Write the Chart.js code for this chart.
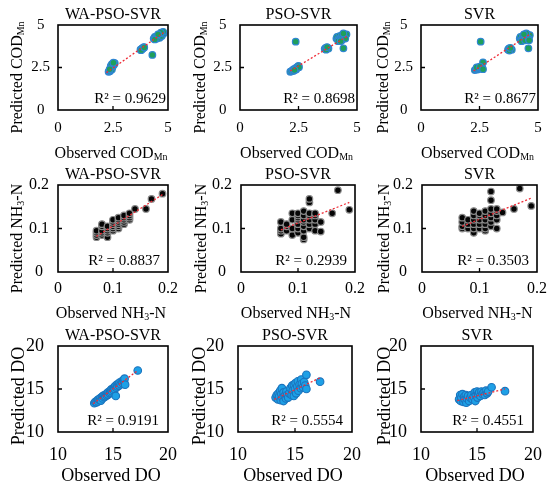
<!DOCTYPE html>
<html><head><meta charset="utf-8">
<script src="https://cdn.jsdelivr.net/npm/chart.js@4.4.1/dist/chart.umd.min.js"></script>
<style>
html,body{margin:0;padding:0;background:#fff;}
#wrap{position:relative;width:550px;height:490px;overflow:hidden;background:#fff;}
#wrap canvas{position:absolute;}
</style></head><body><div id="wrap"></div>
<script>
// ---------- text ----------
const models = ['WA-PSO-SVR', 'PSO-SVR', 'SVR'];
const r2Cod = ['R² = 0.9629', 'R² = 0.8698', 'R² = 0.8677'];
const r2Nh3 = ['R² = 0.8837', 'R² = 0.2939', 'R² = 0.3503'];
const r2Do  = ['R² = 0.9191', 'R² = 0.5554', 'R² = 0.4551'];
const xTitleCod = [['Observed COD', 0], ['Mn', 1]];
const yTitleCod = [['Predicted COD', 0], ['Mn', 1]];
const xTitleNh3 = [['Observed NH', 0], ['3', 1], ['-N', 0]];
const yTitleNh3 = [['Predicted NH', 0], ['3', 1], ['-N', 0]];
const xTitleDo  = [['Observed DO', 0]];
const yTitleDo  = [['Predicted DO', 0]];

// ---------- tick labels ----------
const codTicks = [0, 2.5, 5];
const nh3Ticks = [0, 0.1, 0.2];
const doTicks  = [10, 15, 20];

// ---------- COD Mn ----------
const codObsWA  = [2.30,2.33,2.36,2.38,2.40,2.42,2.45,2.45,2.48,2.50,2.40,2.45,2.55,2.58,2.52,2.35, 3.75,3.80,3.82,3.85,3.87,3.90,3.78,3.92, 4.29, 4.35,4.40,4.45,4.50,4.50,4.55,4.60,4.62,4.65,4.70,4.72,4.75,4.80,4.78,4.68,4.40,4.55];
const codPredWA = [2.25,2.30,2.28,2.35,2.40,2.45,2.50,2.38,2.55,2.60,2.60,2.70,2.68,2.75,2.78,2.40, 3.55,3.58,3.62,3.60,3.66,3.70,3.52,3.68, 3.24, 4.20,4.30,4.25,4.35,4.20,4.30,4.40,4.25,4.45,4.50,4.35,4.55,4.50,4.60,4.55,4.15,4.45];
const codTrendWA = [[2.2, 4.8], [2.2, 4.55]];

const codObsPSO  = [2.15,2.20,2.25,2.28,2.30,2.35,2.38,2.40,2.42,2.45,2.48,2.50,2.52,2.33, 2.38, 3.62,3.66,3.70,3.74,3.78,3.68,3.72, 4.12,4.15,4.20,4.25,4.30,4.35,4.40,4.45,4.50,4.55,4.20,4.35,4.50,4.42,4.30, 4.42];
const codPredPSO = [2.25,2.28,2.35,2.30,2.40,2.42,2.45,2.38,2.50,2.48,2.55,2.60,2.52,2.35, 4.02, 3.60,3.65,3.60,3.65,3.62,3.55,3.70, 4.20,4.30,4.15,4.35,4.25,4.40,4.30,4.45,4.35,4.45,4.05,4.10,4.20,4.50,4.05, 3.63];
const codTrendPSO = [[2.15, 4.6], [2.3, 4.35]];

const codObsSVR  = [2.30,2.35,2.40,2.42,2.45,2.48,2.50,2.55,2.60,2.65,2.38,2.52,2.65, 2.55, 3.72,3.76,3.80,3.84,3.88,3.78,3.82, 4.22,4.25,4.30,4.35,4.40,4.45,4.50,4.55,4.60,4.65,4.30,4.45,4.60,4.50,4.40,4.62, 4.59];
const codPredSVR = [2.35,2.40,2.45,2.38,2.50,2.42,2.48,2.45,2.50,2.80,2.50,2.55,2.40, 4.02, 3.55,3.62,3.58,3.60,3.55,3.50,3.65, 4.20,4.30,4.15,4.35,4.25,4.40,4.30,4.45,4.35,4.40,4.05,4.10,4.20,4.50,4.45,4.10, 3.63];
const codTrendSVR = [[2.25, 4.7], [2.3, 4.5]];

// ---------- NH3-N ----------
const nh3ObsWA  = [0.07,0.07,0.07,0.07, 0.08,0.08,0.08,0.08,0.08, 0.09,0.09,0.09,0.09,0.09, 0.10,0.10,0.10,0.10,0.10,0.10, 0.11,0.11,0.11,0.11,0.11,0.11, 0.12,0.12,0.12,0.12,0.12, 0.13,0.13,0.13,0.13, 0.14, 0.16, 0.17, 0.19];
const nh3PredWA = [0.080,0.085,0.090,0.095, 0.085,0.090,0.095,0.105,0.110, 0.080,0.090,0.095,0.100,0.105, 0.095,0.100,0.105,0.110,0.115,0.120, 0.100,0.105,0.110,0.115,0.120,0.125, 0.110,0.115,0.120,0.125,0.130, 0.120,0.125,0.130,0.135, 0.145, 0.145, 0.168, 0.180];
const nh3TrendWA = [[0.07, 0.19], [0.082, 0.178]];

const nh3ObsPSO  = [0.07,0.07,0.07,0.07, 0.08,0.08,0.08, 0.09,0.09,0.09,0.09, 0.10,0.10,0.10,0.10,0.10,0.10,0.10, 0.11,0.11,0.11,0.11,0.11,0.11,0.11,0.11, 0.12,0.12,0.12,0.12,0.12,0.12,0.12, 0.13,0.13,0.13,0.13,0.13, 0.14,0.14, 0.16, 0.17, 0.19];
const nh3PredPSO = [0.088,0.095,0.100,0.115, 0.095,0.105,0.110, 0.085,0.100,0.120,0.135, 0.090,0.100,0.110,0.120,0.125,0.130,0.135, 0.075,0.080,0.095,0.105,0.115,0.120,0.130,0.140, 0.100,0.110,0.120,0.130,0.135,0.160,0.168, 0.095,0.110,0.120,0.130,0.135, 0.115,0.093, 0.135, 0.188, 0.143];
const nh3TrendPSO = [[0.07, 0.19], [0.097, 0.160]];

const nh3ObsSVR  = [0.07,0.07,0.07,0.07, 0.08,0.08,0.08, 0.09,0.09,0.09,0.09,0.09,0.09, 0.10,0.10,0.10,0.10,0.10, 0.11,0.11,0.11,0.11,0.11,0.11, 0.12,0.12,0.12,0.12,0.12,0.12,0.12, 0.13,0.13,0.13,0.13,0.13, 0.14, 0.16, 0.17, 0.19];
const nh3PredSVR = [0.100,0.105,0.115,0.125, 0.100,0.110,0.120, 0.090,0.100,0.110,0.120,0.130,0.140, 0.100,0.110,0.120,0.130,0.135, 0.095,0.100,0.110,0.120,0.130,0.140, 0.105,0.115,0.125,0.135,0.145,0.165,0.185, 0.100,0.120,0.130,0.140,0.145, 0.137, 0.145, 0.192, 0.152];
const nh3TrendSVR = [[0.07, 0.19], [0.105, 0.170]];

// ---------- DO ----------
const doObsWA  = [13.3,13.4,13.5,13.6,13.65,13.7,13.8,13.85,13.9,14.0,14.05,14.1,14.2,14.25,14.3,14.4,14.45,14.5,14.55,14.6,14.7,14.75,14.8,14.85,14.9,15.0,15.05,15.1,15.15,15.2,15.25,15.3,15.35,15.4,15.5,15.55,15.6,15.7,15.8,15.85,15.95,16.0,16.05,16.1,17.25];
const doPredWA = [13.35,13.5,13.45,13.7,13.55,13.8,13.75,13.95,13.65,14.1,13.9,14.2,14.05,14.3,14.15,14.4,14.25,14.55,14.35,14.65,14.5,14.8,14.6,14.95,14.75,15.05,14.85,15.2,15.0,15.35,14.2,15.15,15.5,15.3,15.6,15.4,15.75,15.55,15.9,15.7,16.05,15.85,16.2,15.5,17.15];
const doTrendWA = [[13.2, 17.2], [13.3, 17.1]];

const doObsPSO  = [13.3,13.4,13.5,13.55,13.6,13.7,13.75,13.8,13.85,13.9,14.0,14.0,14.1,14.2,14.25,14.3,14.4,14.5,14.6,14.7,14.75,14.8,14.9,14.9,15.0,15.05,15.1,15.2,15.25,15.3,15.4,15.5,15.55,15.6,15.7,15.8,15.9,16.0,16.0,17.2];
const doPredPSO = [14.0,14.3,13.8,14.5,14.1,14.8,13.7,14.4,15.1,14.0,13.6,14.6,14.2,13.9,14.7,14.3,14.0,14.5,15.1,14.3,15.4,14.8,15.5,14.2,15.0,15.7,14.5,15.3,15.9,14.8,15.5,15.1,16.1,15.6,15.2,15.8,15.4,16.65,15.0,15.85];
const doTrendPSO = [[13.2, 17.2], [13.8, 16.3]];

const doObsSVR  = [13.4,13.5,13.55,13.6,13.7,13.8,13.85,13.9,14.0,14.05,14.1,14.2,14.3,14.4,14.5,14.6,14.7,14.8,14.85,14.9,15.0,15.05,15.1,15.2,15.3,15.4,15.5,15.6,15.7,15.8,15.9,16.0,16.3,17.5];
const doPredSVR = [13.8,14.3,13.6,14.0,14.4,13.5,14.1,13.8,14.3,13.4,13.9,14.2,13.6,14.0,14.3,13.8,14.1,14.6,13.6,14.3,14.7,14.0,14.4,14.6,14.2,14.7,14.4,14.6,14.3,14.8,14.5,14.7,15.2,14.75];
const doTrendSVR = [[13.25, 17.5], [13.65, 15.0]];

// ---------- layout (positions / styles only) ----------
const cellX = [[0,185],[185,365],[365,550]];
const cellY = [[0,162],[162,322],[322,490]];
const boxX = [[[58,168],[240,357],[421,538]], [[58,168],[241,355],[422,537]], [[58,168],[238,352],[421,533]]];
const boxY = [[25,110],[185,272],[346,432]];
const colYTitleAdj = [0, 1, 3];
const FONT = "'Liberation Serif', 'Times New Roman', serif";

const rows = [
  { ticks: codTicks, r2: r2Cod, xt: xTitleCod, yt: yTitleCod, tickFont: 15, axisFont: 16, ytickPad: 8, xtickPad: 9,
    radius: 3.3, fill: '#1f9f5b', border: '#2f86d2', bw: 1.2, xTitleDy: 43, yTitleDx: 41, yTitleDy: 10, r2dx: 2, r2dy: 7,
    sets: [[codObsWA, codPredWA, codTrendWA], [codObsPSO, codPredPSO, codTrendPSO], [codObsSVR, codPredSVR, codTrendSVR]] },
  { ticks: nh3Ticks, r2: r2Nh3, xt: xTitleNh3, yt: yTitleNh3, tickFont: 16, axisFont: 16, ytickPad: 9, xtickPad: 7,
    radius: 3.3, fill: '#050505', border: '#8a8a8a', bw: 1.2, xTitleDy: 41, yTitleDx: 41, yTitleDy: 10, r2dx: 8, r2dy: 7,
    sets: [[nh3ObsWA, nh3PredWA, nh3TrendWA], [nh3ObsPSO, nh3PredPSO, nh3TrendPSO], [nh3ObsSVR, nh3PredSVR, nh3TrendSVR]] },
  { ticks: doTicks, r2: r2Do, xt: xTitleDo, yt: yTitleDo, tickFont: 18, axisFont: 18, ytickPad: 14, xtickPad: 12,
    radius: 3.8, fill: '#1ea0e6', border: '#1b73bd', bw: 1.1, xTitleDy: 43, yTitleDx: 40, yTitleDy: 7, r2dx: 9, r2dy: 7,
    sets: [[doObsWA, doPredWA, doTrendWA], [doObsPSO, doPredPSO, doTrendPSO], [doObsSVR, doPredSVR, doTrendSVR]] }
];

function drawRich(ctx, parts, size, cx, cy, rot) {
  ctx.save();
  ctx.translate(cx, cy);
  if (rot) ctx.rotate(-Math.PI / 2);
  let total = 0;
  const widths = parts.map(p => {
    ctx.font = (p[1] ? size * 0.62 : size) + 'px ' + FONT;
    const w = ctx.measureText(p[0]).width;
    total += w; return w;
  });
  let x = -total / 2;
  const base = size * 0.33;
  ctx.textAlign = 'left';
  ctx.textBaseline = 'alphabetic';
  ctx.fillStyle = '#000';
  parts.forEach((p, i) => {
    ctx.font = (p[1] ? size * 0.62 : size) + 'px ' + FONT;
    ctx.fillText(p[0], x, base + (p[1] ? size * 0.12 : 0));
    x += widths[i];
  });
  ctx.restore();
}

const decor = {
  id: 'decor',
  afterDraw(chart, args, o) {
    const ctx = chart.ctx, ca = chart.chartArea;
    const xs = chart.scales.x, ys = chart.scales.y;
    ctx.save();
    // inward mid ticks
    ctx.strokeStyle = '#000'; ctx.lineWidth = 1.3;
    const mx = xs.getPixelForValue(o.mid), my = ys.getPixelForValue(o.mid);
    ctx.beginPath();
    ctx.moveTo(mx, ca.bottom); ctx.lineTo(mx, ca.bottom - 4);
    ctx.moveTo(ca.left, my); ctx.lineTo(ca.left + 4, my);
    ctx.stroke();
    // frame
    ctx.lineWidth = 1.6;
    ctx.strokeRect(ca.left, ca.top, ca.right - ca.left, ca.bottom - ca.top);
    // panel title
    ctx.fillStyle = '#000';
    ctx.font = '16px ' + FONT;
    ctx.textAlign = 'center'; ctx.textBaseline = 'middle';
    ctx.fillText(o.title, (ca.left + ca.right) / 2, ca.top - 10);
    // R²
    ctx.font = '15px ' + FONT;
    ctx.textAlign = 'right'; ctx.textBaseline = 'alphabetic';
    ctx.fillText(o.r2, ca.right - o.r2dx, ca.bottom - o.r2dy);
    ctx.restore();
    // axis titles
    drawRich(ctx, o.xt, o.axisFont, (ca.left + ca.right) / 2 - 2, ca.bottom + o.xTitleDy, false);
    drawRich(ctx, o.yt, o.axisFont, ca.left - o.yTitleDx, (ca.top + ca.bottom) / 2 + o.yTitleDy, true);
  }
};

const wrap = document.getElementById('wrap');
rows.forEach((row, ri) => {
  row.sets.forEach((set, ci) => {
    const [obs, pred, trend] = set;
    const cx0 = cellX[ci][0], cx1 = cellX[ci][1];
    const cy0 = cellY[ri][0], cy1 = cellY[ri][1];
    const bx = boxX[ri][ci], by = boxY[ri];
    const W = cx1 - cx0, H = cy1 - cy0;
    const cv = document.createElement('canvas');
    cv.style.left = cx0 + 'px'; cv.style.top = cy0 + 'px';
    cv.style.width = W + 'px'; cv.style.height = H + 'px';
    cv.width = W; cv.height = H;
    wrap.appendChild(cv);
    const yW = bx[0] - cx0;
    const xH = cy1 - by[1];
    const tk = row.ticks;
    new Chart(cv, {
      type: 'scatter',
      data: {
        datasets: [
          { type: 'line', data: trend[0].map((x, i) => ({ x, y: trend[1][i] })), borderColor: '#ef2b36',
            borderWidth: 1.3, borderDash: [2, 2], pointRadius: 0, fill: false, order: 0 },
          { data: obs.map((x, i) => ({ x, y: pred[i] })), backgroundColor: row.fill, borderColor: row.border,
            borderWidth: row.bw, pointRadius: row.radius, order: 1 }
        ]
      },
      options: {
        responsive: false, animation: false, devicePixelRatio: 1,
        layout: { padding: { left: 0, top: by[0] - cy0, right: cx1 - bx[1], bottom: 0 } },
        plugins: {
          legend: { display: false }, tooltip: { enabled: false },
          decor: { title: models[ci], r2: row.r2[ci], xt: row.xt, yt: row.yt, axisFont: row.axisFont, mid: tk[1],
                   xTitleDy: row.xTitleDy, yTitleDx: row.yTitleDx - colYTitleAdj[ci], yTitleDy: row.yTitleDy,
                   r2dx: row.r2dx, r2dy: row.r2dy }
        },
        scales: {
          x: {
            type: 'linear', min: tk[0], max: tk[2],
            grid: { display: false, drawTicks: false }, border: { display: false },
            afterBuildTicks: s => { s.ticks = tk.map(v => ({ value: v })); },
            ticks: { color: '#000', padding: row.xtickPad, maxRotation: 0, font: { family: FONT, size: row.tickFont },
                     callback: v => String(v) },
            afterFit: s => { s.height = xH; s.paddingLeft = 0; s.paddingRight = 0; }
          },
          y: {
            type: 'linear', min: tk[0], max: tk[2],
            grid: { display: false, drawTicks: false }, border: { display: false },
            afterBuildTicks: s => { s.ticks = tk.map(v => ({ value: v })); },
            ticks: { color: '#000', padding: row.ytickPad, crossAlign: 'center', font: { family: FONT, size: row.tickFont },
                     callback: v => String(v) },
            afterFit: s => { s.width = yW; s.paddingTop = 0; s.paddingBottom = 0; }
          }
        }
      },
      plugins: [decor]
    });
  });
});
</script>
</body></html>
